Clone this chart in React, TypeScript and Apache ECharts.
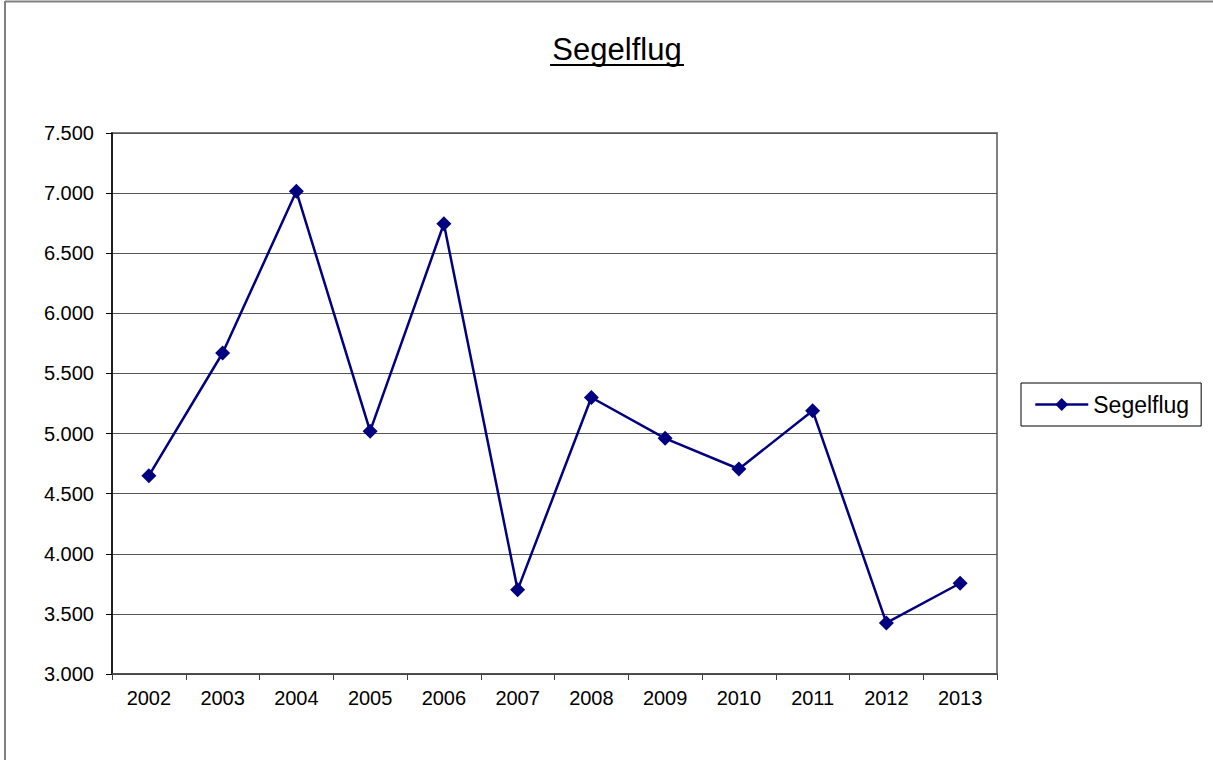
import React, { useEffect, useRef } from "react";
import * as echarts from "echarts";

const years = ["2002", "2003", "2004", "2005", "2006", "2007", "2008", "2009", "2010", "2011", "2012", "2013"];
const segelflug = [4650, 5670, 7015, 5020, 6745, 3700, 5300, 4960, 4705, 5190, 3425, 3755];
const seriesName = "Segelflug";
const titleText = "Segelflug";

const FONT = "'Liberation Sans', Arial, sans-serif";

export default function App() {
  const ref = useRef<HTMLDivElement>(null);
  useEffect(() => {
    if (!ref.current) return;
    const chart = echarts.init(ref.current, null, { renderer: "svg" });
    chart.setOption({
      animation: false,
      backgroundColor: "#ffffff",
      textStyle: { fontFamily: FONT },
      graphic: [
        { type: "line", shape: { x1: 5, y1: 1.5, x2: 1213, y2: 1.5 }, style: { stroke: "#808080", lineWidth: 2 } },
        { type: "line", shape: { x1: 5, y1: 1, x2: 5, y2: 760 }, style: { stroke: "#808080", lineWidth: 2 } },
        {
          type: "text",
          x: 617,
          y: 49,
          style: { text: titleText, fontSize: 31, fontFamily: FONT, fill: "#000", textAlign: "center", textVerticalAlign: "middle" },
        },
        { type: "line", shape: { x1: 550, y1: 65, x2: 684, y2: 65 }, style: { stroke: "#000", lineWidth: 2 } },
      ],
      legend: {
        left: 1021,
        top: 383,
        orient: "vertical",
        padding: [10, 12, 10, 13],
        itemWidth: 53,
        itemHeight: 16,
        borderColor: "#000",
        borderWidth: 1,
        lineStyle: { width: 2.5 },
        textStyle: { fontSize: 23, color: "#000", fontFamily: FONT, lineHeight: 22 },
        data: [{ name: seriesName }],
      },
      grid: {
        left: 112,
        right: 216,
        top: 133,
        bottom: 86,
        show: true,
        borderColor: "#808080",
        borderWidth: 2,
        backgroundColor: "#ffffff",
      },
      xAxis: {
        type: "category",
        data: years,
        boundaryGap: true,
        axisLine: { lineStyle: { color: "#404040", width: 1.5 } },
        axisTick: { show: true, length: 6, lineStyle: { color: "#404040" }, interval: 0 },
        axisLabel: { color: "#000", fontSize: 20, margin: 14, fontFamily: FONT, interval: 0 },
        splitLine: { show: false },
      },
      yAxis: {
        type: "value",
        min: 3000,
        max: 7500,
        interval: 500,
        axisLine: { show: true, lineStyle: { color: "#000", width: 1.5 } },
        axisTick: { show: true, length: 6, lineStyle: { color: "#000" } },
        axisLabel: {
          color: "#000",
          fontSize: 20,
          margin: 18,
          fontFamily: FONT,
          formatter: (v: number) => (v / 1000).toFixed(3),
        },
        splitLine: { show: true, lineStyle: { color: "#555", width: 1 } },
      },
      series: [
        {
          name: seriesName,
          type: "line",
          data: segelflug,
          symbol: "diamond",
          symbolSize: 15,
          lineStyle: { color: "#000080", width: 2.5 },
          itemStyle: { color: "#000080" },
        },
      ],
    });
    return () => chart.dispose();
  }, []);
  return <div ref={ref} style={{ position: "fixed", left: 0, top: 0, width: 1213, height: 760 }} />;
}
